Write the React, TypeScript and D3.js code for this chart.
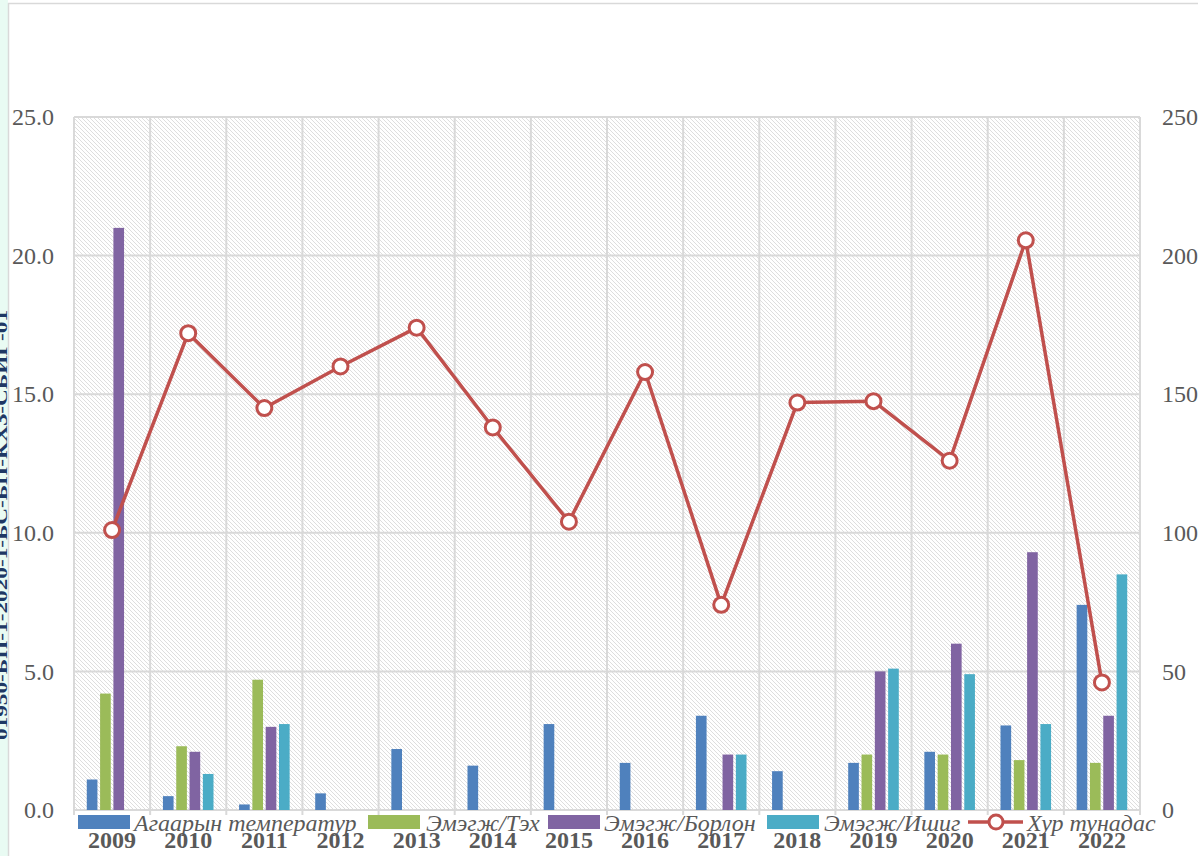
import React from "react";
import * as d3 from "d3";

const years = ["2009","2010","2011","2012","2013","2014","2015","2016","2017","2018","2019","2020","2021","2022"];
const airTemp = [1.1, 0.5, 0.2, 0.6, 2.2, 1.6, 3.1, 1.7, 3.4, 1.4, 1.7, 2.1, 3.05, 7.4];
const tekh = [4.2, 2.3, 4.7, 0, 0, 0, 0, 0, 0, 0, 2.0, 2.0, 1.8, 1.7];
const borlon = [21.0, 2.1, 3.0, 0, 0, 0, 0, 0, 2.0, 0, 5.0, 6.0, 9.3, 3.4];
const ishig = [0, 1.3, 3.1, 0, 0, 0, 0, 0, 2.0, 0, 5.1, 4.9, 3.1, 8.5];
const precip = [101, 172, 145, 160, 174, 138, 104, 158, 74, 147, 147.5, 126, 205.5, 46];
const leftTicks = [0, 5, 10, 15, 20, 25];
const rightTicks = [0, 50, 100, 150, 200, 250];
const seriesNames = ["Агаарын температур", "Эмэгж/Тэх", "Эмэгж/Борлон", "Эмэгж/Ишиг"];
const lineName = "Хур тунадас";
const seriesColors = ["#4f81bd", "#9bbb59", "#8064a2", "#4bacc6"];
const lineColor = "#c0504d";
const sideText = "01950-БП-1-2020-1-БС-БП-КХЗ-СБИГ-01";

export default function App() {
  const W = 1198, H = 856;
  const L = 74, R = 1140, T = 117, B = 810;
  const x = d3.scaleBand<string>().domain(years).range([L, R]).paddingInner(0).paddingOuter(0);
  const bw = x.bandwidth();
  const xi = d3.scaleBand<number>().domain([0, 1, 2, 3]).range([0, bw]).paddingInner(0.2).paddingOuter(0.96);
  const yL = d3.scaleLinear().domain([0, 25]).range([B, T]);
  const yR = d3.scaleLinear().domain([0, 250]).range([B, T]);
  const series = [airTemp, tekh, borlon, ishig];
  const line = d3.line<number>().x((_, i) => (x(years[i]) as number) + bw / 2).y((d) => yR(d));
  const grid = "#d9d9d9";
  const txt = "#595959";
  const font = "'Liberation Serif', 'Times New Roman', serif";

  const legendItems = [
    { rx: 78, tx: 134 },
    { rx: 368, tx: 426 },
    { rx: 548, tx: 604 },
    { rx: 767, tx: 824 },
  ];
  const legRectY = 815;
  const legTextY = 831;

  return (
    <svg width={W} height={H} style={{ position: "absolute", left: 0, top: 0, background: "#fff" }} fontFamily={font}>
      <defs>
        <pattern id="hatch" width="4" height="4" patternUnits="userSpaceOnUse">
          <rect width="4" height="4" fill="#fff" />
          <path d="M-1,-1 L5,5 M-1,3 L1,5 M3,-1 L5,1" stroke="#dedede" strokeWidth="1" />
        </pattern>
        <clipPath id="leftclip"><rect x="0" y="0" width="8" height={H} /></clipPath>
      </defs>
      <rect x="0" y="0" width="8" height={H} fill="#e9fbf3" />
      <g clipPath="url(#leftclip)">
        <text transform={`translate(7,525) rotate(-90)`} textAnchor="middle" fontSize="17" fontWeight="bold" fill="#1f3864" textLength={430} lengthAdjust="spacingAndGlyphs">{sideText}</text>
      </g>
      <line x1="8.5" y1="3" x2="8.5" y2={H} stroke={grid} strokeWidth="1.5" />
      <line x1="8" y1="3.5" x2={W} y2="3.5" stroke={grid} strokeWidth="1.5" />

      <rect x={L} y={T} width={R - L} height={B - T} fill="url(#hatch)" />
      {leftTicks.map((t) => (
        <line key={"h" + t} x1={L} x2={R} y1={yL(t)} y2={yL(t)} stroke={grid} strokeWidth="2" />
      ))}
      {years.map((yv) => (
        <line key={"v" + yv} x1={(x(yv) as number)} x2={(x(yv) as number)} y1={T} y2={B + 5} stroke={grid} strokeWidth="2" />
      ))}
      <line x1={R} x2={R} y1={T} y2={B + 5} stroke={grid} strokeWidth="2" />

      {series.map((vals, si) =>
        vals.map((v, i) =>
          v > 0 ? (
            <rect key={`b${si}-${i}`} x={(x(years[i]) as number) + (xi(si) as number)} y={yL(v)} width={xi.bandwidth()} height={yL(0) - yL(v)} fill={seriesColors[si]} />
          ) : null
        )
      )}

      <path d={line(precip) || ""} fill="none" stroke={lineColor} strokeWidth="3.5" strokeLinejoin="round" />
      {precip.map((v, i) => (
        <circle key={"c" + i} cx={(x(years[i]) as number) + bw / 2} cy={yR(v)} r="7.5" fill="#fff" stroke={lineColor} strokeWidth="3" />
      ))}

      {leftTicks.map((t) => (
        <text key={"lt" + t} x={54} y={yL(t)} dy="0.34em" textAnchor="end" fontSize="24" fill={txt}>{t.toFixed(1)}</text>
      ))}
      {rightTicks.map((t) => (
        <text key={"rt" + t} x={1162} y={yR(t)} dy="0.34em" textAnchor="start" fontSize="24" fill={txt}>{t}</text>
      ))}

      {years.map((yv) => (
        <text key={"x" + yv} x={(x(yv) as number) + bw / 2} y={848} textAnchor="middle" fontSize="24" fontWeight="bold" fill={txt}>{yv}</text>
      ))}

      {seriesNames.map((n, i) => (
        <g key={"lg" + i}>
          <rect x={legendItems[i].rx} y={legRectY} width={52} height={14} fill={seriesColors[i]} />
          <text x={legendItems[i].tx} y={legTextY} fontSize="24" fontStyle="italic" fill={txt}>{n}</text>
        </g>
      ))}
      <line x1={968} x2={1023} y1={legRectY + 7} y2={legRectY + 7} stroke={lineColor} strokeWidth="3.5" />
      <circle cx={996} cy={legRectY + 7} r="7" fill="#fff" stroke={lineColor} strokeWidth="3" />
      <text x={1027} y={legTextY} fontSize="24" fontStyle="italic" fill={txt}>{lineName}</text>
    </svg>
  );
}
